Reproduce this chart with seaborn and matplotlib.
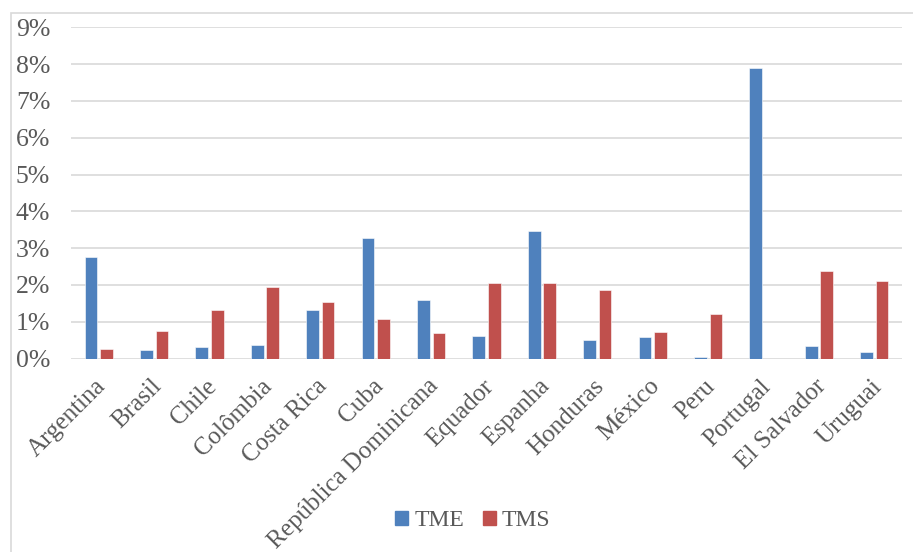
import matplotlib
matplotlib.use("Agg")
import matplotlib.pyplot as plt
import matplotlib.patches as mpatches
import matplotlib.transforms as mtransforms
from matplotlib.ticker import FuncFormatter, MultipleLocator
import seaborn as sns
import pandas as pd

countries = ["Argentina", "Brasil", "Chile", "Colômbia", "Costa Rica", "Cuba",
             "República Dominicana", "Equador", "Espanha", "Honduras", "México",
             "Peru", "Portugal", "El Salvador", "Uruguai"]
tme = [2.77, 0.23, 0.31, 0.36, 1.31, 3.28, 1.58, 0.61, 3.46, 0.50, 0.58, 0.04, 7.89, 0.34, 0.17]
tms = [0.27, 0.75, 1.31, 1.94, 1.53, 1.07, 0.70, 2.05, 2.04, 1.87, 0.73, 1.21, 0.00, 2.38, 2.10]
series = ["TME", "TMS"]
colors = ["#4F81BD", "#C0504D"]

df = pd.DataFrame({
    "País": countries * 2,
    "Valor": tme + tms,
    "Série": [series[0]] * len(countries) + [series[1]] * len(countries),
})

sns.set_theme(style="white")
plt.rcParams["font.family"] = ["Liberation Serif", "DejaVu Serif"]

FS = 18.5
fig = plt.figure(figsize=(9.13, 5.52), dpi=100)
ax = fig.add_axes([0.0778, 0.3505, 0.9102, 0.6])

sns.barplot(data=df, x="País", y="Valor", hue="Série", palette=colors,
            width=0.56, gap=0.18, ax=ax, edgecolor="white", linewidth=0.4,
            saturation=1, legend=False)

ax.set_ylim(0, 9)
ax.set_xlim(-0.5, len(countries) - 0.5)
ax.yaxis.set_major_locator(MultipleLocator(1))
ax.yaxis.set_major_formatter(FuncFormatter(lambda v, p: f"{int(round(v))}%"))
ax.grid(axis="y", color="#D9D9D9", linewidth=1.2)
ax.set_axisbelow(True)
for s in ax.spines.values():
    s.set_visible(False)
ax.set_xlabel("")
ax.set_ylabel("")
ax.tick_params(axis="y", length=0, pad=15, labelsize=FS, labelcolor="#595959")
ax.tick_params(axis="x", length=0, pad=12, labelsize=18, labelcolor="#595959")
offset = mtransforms.ScaledTranslation(-4 / 100, 0, fig.dpi_scale_trans)
for lbl in ax.get_xticklabels():
    lbl.set_rotation(45)
    lbl.set_ha("right")
    lbl.set_va("top")
    lbl.set_rotation_mode("anchor")
    lbl.set_transform(lbl.get_transform() + offset)

# chart frame
frame = mpatches.Rectangle((11 / 913, -0.1), 1.2, 1.1 - 13 / 552, transform=fig.transFigure,
                           fill=False, edgecolor="#D9D9D9", linewidth=1.2)
fig.add_artist(frame)

handles = [mpatches.Patch(color=c, label=s) for c, s in zip(colors, series)]
fig.legend(handles=handles, loc="center", bbox_to_anchor=(473 / 913, 1 - 521 / 552),
           ncol=2, frameon=False, fontsize=17, handlelength=0.55, handleheight=0.55,
           handletextpad=0.25, columnspacing=0.8, labelcolor="#595959")

fig.savefig("out.png", dpi=100)
